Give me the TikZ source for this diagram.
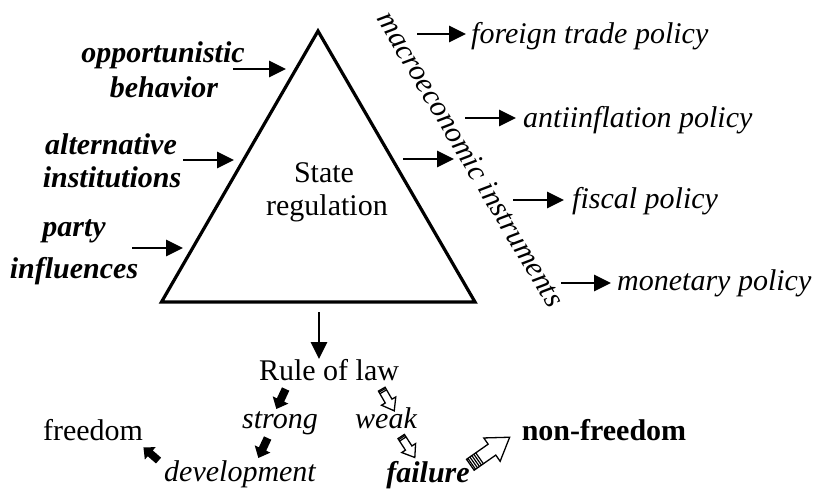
\documentclass[tikz,border=0pt]{standalone}
\usepackage{fontspec}
\setmainfont{Liberation Serif}[
  ItalicFont={Liberation Serif Italic},
  BoldFont={Liberation Serif Bold},
  BoldItalicFont={Liberation Serif Bold Italic}]
\usetikzlibrary{arrows.meta,calc}

% Block arrow pointing along the local x axis, centred at (#1,#2)
\newcommand\blockarrow[6]{%
  \begin{scope}[shift={(#1,#2)},rotate=#3,xscale=#4,yscale=#5]
    \path[#6] (-10,-3.5) -- (1,-3.5) -- (1,-7.5) -- (10,0) -- (1,7.5) -- (1,3.5) -- (-10,3.5) -- cycle;
  \end{scope}}
% Hollow block arrow with a striped tail
\newcommand\stripedarrow[6]{%
  \begin{scope}[shift={(#1,#2)},rotate=#3,xscale=#4,yscale=#5]
    \path[hollowarrow] (-10,-3.5) -- (1,-3.5) -- (1,-7.5) -- (10,0) -- (1,7.5) -- (1,3.5) -- (-10,3.5) -- cycle;
    \foreach \s in {#6} \draw[stripe] (\s,-3.5) -- (\s,3.5);
  \end{scope}}

\tikzset{
  lbl/.style={inner sep=0pt, anchor=base, font=\fontsize{30}{34}\selectfont},
  lbli/.style={lbl, font=\fontsize{30}{34}\selectfont\itshape},
  lblbi/.style={lbl, font=\fontsize{30}{34}\selectfont\bfseries\itshape},
  lblb/.style={lbl, font=\fontsize{30}{34}\selectfont\bfseries},
  arr/.style={line width=2.8pt, -{Triangle[length=17pt,width=16pt]}},
  solidarrow/.style={fill=black},
  hollowarrow/.style={draw=black, fill=white, line width=1.3pt, line join=miter},
  stripe/.style={line width=1.2pt},
}

\begin{document}
\begin{tikzpicture}[x=1pt,y=-1pt]
  \useasboundingbox (0,0) rectangle (815,490);
  \fill[white] (0,0) rectangle (815,490);

  % the triangle
  \coordinate (apex) at (318,31);
  \coordinate (bl) at (161.5,302);
  \coordinate (br) at (475,302);
  \draw[line width=3.2pt, line join=miter] (bl) -- (apex) -- (br) -- cycle;
  \node[lbl] (state) at (324,182) {State};
  \node[lbl] (regulation) at (327,215) {regulation};

  % influences on the left
  \node[lblbi] (opp1) at (163,62) {opportunistic};
  \node[lblbi] (opp2) at (164,97) {behavior};
  \node[lblbi] (alt1) at (111,154) {alternative};
  \node[lblbi] (alt2) at (112,187) {institutions};
  \node[lblbi] (par1) at (74,236) {party};
  \node[lblbi] (par2) at (74,278) {influences};

  \coordinate (oppT) at (233,69);  \coordinate (oppH) at (286,69);
  \coordinate (altT) at (183,160); \coordinate (altH) at (234,160);
  \coordinate (parT) at (132,248); \coordinate (parH) at (183,248);
  \draw[arr] (oppT) -- (oppH);
  \draw[arr] (altT) -- (altH);
  \draw[arr] (parT) -- (parH);

  % macroeconomic instruments
  \node[lbli, anchor=center, rotate=-59.2] (macro) at (471,159) {macroeconomic instruments};
  \coordinate (macT) at (403,159); \coordinate (macH) at (454,159);
  \draw[arr] (macT) -- (macH);

  \node[lbli, anchor=base west] (foreign) at (471,43) {foreign trade policy};
  \node[lbli, anchor=base west] (anti) at (523,127) {antiinflation policy};
  \node[lbli, anchor=base west] (fiscal) at (572,208) {fiscal policy};
  \node[lbli, anchor=base west] (monetary) at (617,290) {monetary policy};

  \coordinate (forT) at (417,34);  \coordinate (forH) at (466,34);
  \coordinate (antT) at (465,118); \coordinate (antH) at (516,118);
  \coordinate (fisT) at (513,200); \coordinate (fisH) at (564,200);
  \coordinate (monT) at (561,283); \coordinate (monH) at (611,283);
  \draw[arr] (forT) -- (forH);
  \draw[arr] (antT) -- (antH);
  \draw[arr] (fisT) -- (fisH);
  \draw[arr] (monT) -- (monH);

  % rule of law and its outcomes
  \coordinate (lawT) at (319,312); \coordinate (lawH) at (319,359);
  \draw[arr] (lawT) -- (lawH);
  \node[lbl] (law) at (329,380) {Rule of law};
  \node[lbli] (strong) at (280,428) {strong};
  \node[lbli] (weak) at (386,428) {weak};
  \node[lbli] (development) at (240,481) {development};
  \node[lbl] (freedom) at (93,440) {freedom};
  \node[lblbi] (failure) at (428,482) {failure};
  \node[lblb] (nonfreedom) at (604,440) {non-freedom};

  \blockarrow{281}{399}{-115}{1.1}{1.15}{solidarrow}
  \blockarrow{263}{448}{-115}{1.1}{1.15}{solidarrow}
  \blockarrow{151}{454}{139}{1}{1.1}{solidarrow}
  \stripedarrow{388}{400}{-60}{1.25}{1.1}{-9,-7.6}
  \stripedarrow{408}{447}{-57}{1.25}{1.1}{-9,-7.6}
  \stripedarrow{490}{451}{35}{2.4}{1.9}{-9.3,-8.3,-7.3,-6.3,-5.3}
\end{tikzpicture}
\end{document}
